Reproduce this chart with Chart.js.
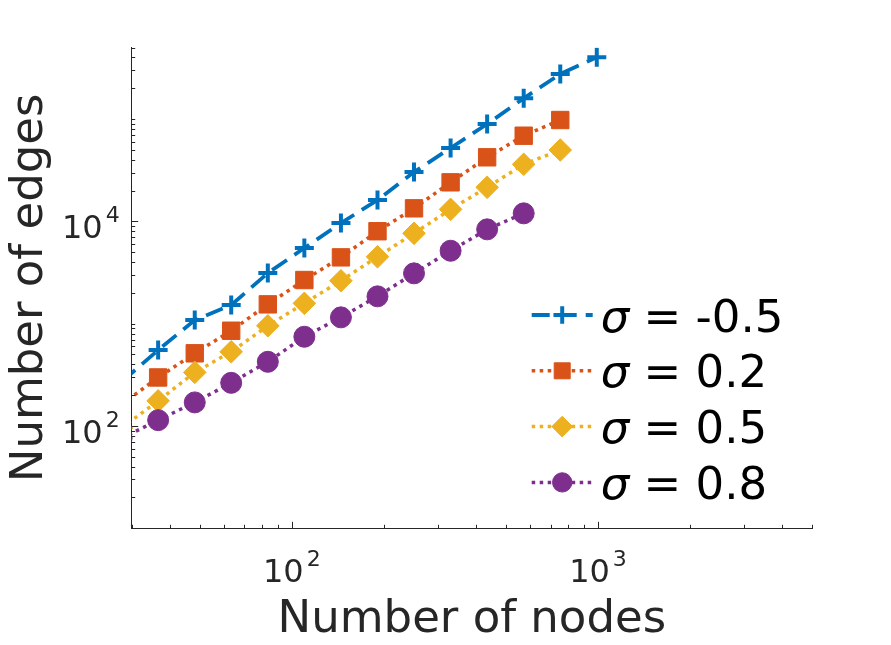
<!DOCTYPE html>
<html>
<head>
<meta charset="utf-8">
<script src="https://cdn.jsdelivr.net/npm/chart.js@4/dist/chart.umd.min.js"></script>
<style>
html,body{margin:0;padding:0;background:#fff;}
canvas{display:block;}
</style>
</head>
<body>
<canvas id="c" width="891" height="645"></canvas>
<script>
// ---- data (first point lies just left of the visible x range) ----
const nodes = [27.8, 36.6, 48.2, 63.4, 83.5, 109.9, 144.7, 190.5, 250.7, 330.1, 434.5, 572, 753, 991];
const edgesSigmaM05 = [270, 552, 1084, 1520, 3124, 5483, 9624, 16150, 30330, 52090, 89350, 159300, 275400, 401000];
const edgesSigma02  = [162, 298, 513, 853, 1544, 2670, 4446, 8004, 13400, 24060, 42250, 68690, 97780];
const edgesSigma05  = [95.7, 176, 334, 531, 953, 1580, 2627, 4508, 7634, 13100, 21500, 36080, 49780];
const edgesSigma08  = [76, 114, 170, 264, 424, 745, 1152, 1849, 3101, 5160, 8350, 11970];
const sigmaValues = ['-0.5', '0.2', '0.5', '0.8'];

const xRange = [30, 5000];
const yRange = [10, 500000];
const xMajorTicks = [100, 1000];
const xTickBases = ['10', '10'];
const xTickExps = ['2', '3'];
const yMajorTicks = [100, 10000];
const yTickBases = ['10', '10'];
const yTickExps = ['2', '4'];

const xTitle = 'Number of nodes';
const yTitle = 'Number of edges';

// ---- styles ----
const AXIS = '#262626';
const FONT = '"DejaVu Sans", sans-serif';
const COLORS = ['#0072BD', '#D95319', '#EDB120', '#7E2F8E'];

function pts(ys) { return ys.map((y, i) => ({x: nodes[i], y: y})); }

const seriesData = [edgesSigmaM05, edgesSigma02, edgesSigma05, edgesSigma08];
const styles = [
  {pointStyle: 'cross',   pointRadius: 9.5,  pointBorderWidth: 4,   borderDash: [18, 9], borderWidth: 3.8},
  {pointStyle: 'rect',    pointRadius: 12.3, pointBorderWidth: 1,   borderDash: [3.5, 4.5], borderWidth: 3.5},
  {pointStyle: 'rectRot', pointRadius: 11.3, pointBorderWidth: 1,   borderDash: [3.5, 4.5], borderWidth: 3.5},
  {pointStyle: 'circle',  pointRadius: 10.5, pointBorderWidth: 1,   borderDash: [3.5, 4.5], borderWidth: 3.5}
];

const datasets = seriesData.map((ys, i) => Object.assign({
  label: 'σ = ' + sigmaValues[i],
  data: pts(ys),
  borderColor: COLORS[i],
  backgroundColor: COLORS[i],
  pointBackgroundColor: COLORS[i],
  pointBorderColor: COLORS[i],
  tension: 0,
  clip: 0,
  order: 4 - i
}, styles[i]));

function drawPow(ctx, base, exp, x, y, align) {
  ctx.font = '32px ' + FONT;
  const wb = ctx.measureText(base).width;
  ctx.font = '22px ' + FONT;
  const we = ctx.measureText(exp).width;
  const gap = 3;
  const total = wb + gap + we;
  const left = align === 'center' ? x - total / 2 : x - total;
  ctx.textAlign = 'left';
  ctx.textBaseline = 'alphabetic';
  ctx.font = '32px ' + FONT;
  ctx.fillText(base, left, y);
  ctx.font = '22px ' + FONT;
  ctx.fillText(exp, left + wb + gap, y - 16);
}

const matlabAxes = {
  id: 'matlabAxes',
  afterDraw(chart) {
    const ctx = chart.ctx;
    const xs = chart.scales.x, ys = chart.scales.y;
    const area = chart.chartArea;
    ctx.save();
    ctx.strokeStyle = AXIS;
    ctx.fillStyle = AXIS;
    ctx.lineWidth = 1;
    // inward tick marks on log axes
    const decades = [1, 10, 100, 1000, 10000, 100000];
    decades.forEach(d => {
      for (let k = 1; k <= 9; k++) {
        const v = k * d;
        if (v >= xRange[0] && v <= xRange[1]) {
          const px = Math.round(xs.getPixelForValue(v)) + 0.5;
          const len = xMajorTicks.includes(v) ? 6.5 : 3.5;
          ctx.beginPath();
          ctx.moveTo(px, area.bottom);
          ctx.lineTo(px, area.bottom - len);
          ctx.stroke();
        }
        if (v >= yRange[0] && v <= yRange[1]) {
          const py = Math.round(ys.getPixelForValue(v)) + 0.5;
          const len = yMajorTicks.includes(v) ? 6.5 : 3.5;
          ctx.beginPath();
          ctx.moveTo(area.left, py);
          ctx.lineTo(area.left + len, py);
          ctx.stroke();
        }
      }
    });
    // tick labels
    xMajorTicks.forEach((v, i) => {
      drawPow(ctx, xTickBases[i], xTickExps[i], xs.getPixelForValue(v), area.bottom + 53.5, 'center');
    });
    yMajorTicks.forEach((v, i) => {
      drawPow(ctx, yTickBases[i], yTickExps[i], area.left - 12, ys.getPixelForValue(v) + 17, 'right');
    });
    // legend
    const H = Chart.helpers;
    chart.data.datasets.forEach((ds, i) => {
      const rowY = 315 + i * 55.8;
      const x1 = area.left + 400, x2 = area.left + 461, xm = (x1 + x2) / 2;
      ctx.save();
      ctx.strokeStyle = ds.borderColor;
      ctx.lineWidth = ds.borderWidth;
      ctx.setLineDash(ds.borderDash);
      ctx.beginPath();
      ctx.moveTo(x1, rowY);
      ctx.lineTo(x2, rowY);
      ctx.stroke();
      ctx.setLineDash([]);
      ctx.fillStyle = ds.pointBackgroundColor;
      ctx.strokeStyle = ds.pointBorderColor;
      ctx.lineWidth = ds.pointBorderWidth;
      if (H && H.drawPoint) {
        H.drawPoint(ctx, {pointStyle: ds.pointStyle, radius: ds.pointRadius * 0.92, rotation: 0, borderWidth: ds.pointBorderWidth}, xm, rowY);
      }
      ctx.restore();
      // text
      ctx.fillStyle = '#000';
      ctx.textAlign = 'left';
      ctx.textBaseline = 'alphabetic';
      const tx = area.left + 469;
      ctx.font = 'italic 45px ' + FONT;
      ctx.fillText('σ', tx, rowY + 16.5);
      const ws = ctx.measureText('σ').width;
      ctx.font = '45px ' + FONT;
      ctx.fillText(' = ' + sigmaValues[i], tx + ws, rowY + 16.5);
    });
    ctx.restore();
  }
};

new Chart(document.getElementById('c'), {
  type: 'line',
  data: {datasets: datasets},
  options: {
    responsive: false,
    animation: false,
    events: [],
    layout: {padding: {left: 0, top: 47.5, right: 79, bottom: 0}},
    plugins: {legend: {display: false}, tooltip: {enabled: false}},
    scales: {
      x: {
        type: 'logarithmic',
        min: xRange[0], max: xRange[1],
        grid: {display: false},
        border: {display: true, color: AXIS, width: 1},
        ticks: {display: false},
        title: {display: true, text: xTitle, color: AXIS,
                font: {family: FONT, size: 45, lineHeight: 1},
                padding: {top: 0, bottom: 2.5}},
        afterFit(scale) { scale.height = 116.7; }
      },
      y: {
        type: 'logarithmic',
        min: yRange[0], max: yRange[1],
        grid: {display: false},
        border: {display: true, color: AXIS, width: 1},
        ticks: {display: false},
        title: {display: true, text: yTitle, color: AXIS,
                font: {family: FONT, size: 45, lineHeight: 1},
                padding: {top: 7.5, bottom: 0}},
        afterFit(scale) { scale.width = 131.7; }
      }
    }
  },
  plugins: [matlabAxes]
});
</script>
</body>
</html>
